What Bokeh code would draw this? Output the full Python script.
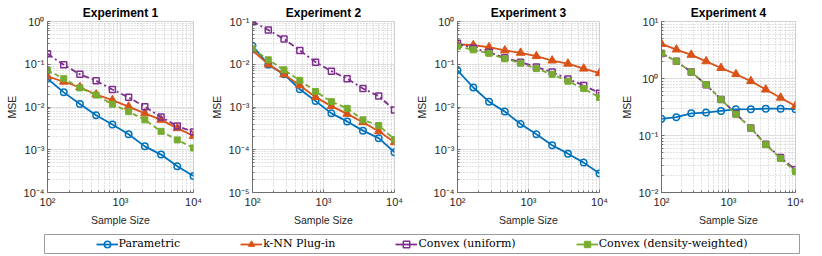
from bokeh.plotting import figure
from bokeh.layouts import column, row
from bokeh.models import Range1d, FixedTicker, CustomJSTickFormatter, Legend, LegendItem
from bokeh.embed import file_html
from bokeh.resources import INLINE

sample_sizes = [100, 167, 278, 464, 774, 1292, 2154, 3594, 5995, 10000]

# Experiment 1
exp1_parametric = [0.046, 0.022, 0.0117, 0.0064, 0.0039, 0.0023, 0.0012, 0.00077, 0.00041, 0.000244]
exp1_knn = [0.052, 0.039, 0.029, 0.0196, 0.0145, 0.0102, 0.0071, 0.0050, 0.0032, 0.0021]
exp1_uniform = [0.175, 0.097, 0.058, 0.041, 0.0257, 0.0168, 0.0102, 0.0058, 0.0036, 0.0026]
exp1_weighted = [0.072, 0.046, 0.028, 0.019, 0.0116, 0.0078, 0.0050, 0.0027, 0.0017, 0.0011]

# Experiment 2
exp2_parametric = [0.027, 0.0098, 0.0058, 0.0026, 0.00138, 0.00071, 0.00046, 0.00028, 0.000187, 0.000087]
exp2_knn = [0.021, 0.0099, 0.0058, 0.0032, 0.0017, 0.00105, 0.00069, 0.00044, 0.00027, 0.000150]
exp2_uniform = [0.1, 0.063, 0.039, 0.021, 0.0112, 0.0069, 0.0046, 0.0027, 0.0018, 0.00085]
exp2_weighted = [0.023, 0.0127, 0.0074, 0.0042, 0.0023, 0.00133, 0.00093, 0.0005, 0.00037, 0.000174]

# Experiment 3
exp3_parametric = [0.072, 0.0286, 0.0133, 0.0078, 0.0040, 0.0023, 0.00127, 0.00081, 0.0005, 0.00028]
exp3_knn = [0.29, 0.28, 0.25, 0.21, 0.185, 0.155, 0.122, 0.103, 0.079, 0.062]
exp3_uniform = [0.31, 0.237, 0.19, 0.141, 0.112, 0.086, 0.066, 0.045, 0.032, 0.021]
exp3_weighted = [0.263, 0.217, 0.18, 0.134, 0.106, 0.079, 0.058, 0.040, 0.027, 0.0167]

# Experiment 4
exp4_parametric = [0.196, 0.21, 0.245, 0.252, 0.27, 0.288, 0.29, 0.295, 0.295, 0.29]
exp4_knn = [4.04, 3.22, 2.6, 2.0, 1.53, 1.19, 0.9, 0.64, 0.46, 0.33]
exp4_uniform = [2.75, 2.0, 1.3, 0.78, 0.43, 0.24, 0.135, 0.07, 0.041, 0.025]
exp4_weighted = [2.78, 2.0, 1.3, 0.78, 0.43, 0.236, 0.135, 0.069, 0.0396, 0.0232]

titles = ["Experiment 1", "Experiment 2", "Experiment 3", "Experiment 4"]
y_exponents = [(-4, 0), (-5, -1), (-4, 0), (-2, 1)]
series_names = ["Parametric", "k-NN Plug-in", "Convex (uniform)", "Convex (density-weighted)"]
data = [
    [exp1_parametric, exp1_knn, exp1_uniform, exp1_weighted],
    [exp2_parametric, exp2_knn, exp2_uniform, exp2_weighted],
    [exp3_parametric, exp3_knn, exp3_uniform, exp3_weighted],
    [exp4_parametric, exp4_knn, exp4_uniform, exp4_weighted],
]

BLUE, ORANGE, PURPLE, GREEN = "#0072BD", "#D95319", "#7E2F8E", "#77AC30"
styles = [
    dict(color=BLUE, dash="solid", marker="circle", size=6.5, fill=None),
    dict(color=ORANGE, dash="solid", marker="triangle", size=8.5, fill=ORANGE),
    dict(color=PURPLE, dash="6 3 2 3", marker="square", size=6, fill=None),
    dict(color=GREEN, dash="5 3", marker="square", size=6, fill=GREEN),
]

fmt = CustomJSTickFormatter(code="""
const sup = {'-':'\u207b','0':'\u2070','1':'\u00b9','2':'\u00b2','3':'\u00b3','4':'\u2074','5':'\u2075','6':'\u2076','7':'\u2077','8':'\u2078','9':'\u2079'};
const e = Math.round(Math.log10(tick));
return '10' + String(e).split('').map(c => sup[c]).join('');
""")

def log_ticks(lo, hi):
    major = [10.0 ** k for k in range(lo, hi + 1)]
    minor = [m * 10.0 ** k for k in range(lo, hi) for m in range(2, 10)]
    return major, minor

layout_px = [(207, 47, 14), (205, 41, 18), (205, 41, 18), (191, 42, 13)]
SANS = "Liberation Sans"


def add_series(p, j, xs, ys):
    st = styles[j]
    r1 = p.line(xs, ys, line_color=st["color"], line_width=1.8, line_dash=st["dash"])
    if st["fill"] is None:
        r2 = p.scatter(xs, ys, marker=st["marker"], size=st["size"],
                       line_color=st["color"], line_width=1.5, fill_alpha=0)
    else:
        r2 = p.scatter(xs, ys, marker=st["marker"], size=st["size"],
                       line_color=st["color"], line_width=1.0, fill_color=st["fill"])
    return r1, r2


panels = []
for i in range(4):
    w, bl, br = layout_px[i]
    lo, hi = y_exponents[i]
    p = figure(width=w, height=228, x_axis_type="log", y_axis_type="log",
               x_range=Range1d(100, 10000), y_range=Range1d(10.0 ** lo, 10.0 ** hi),
               output_backend="svg", toolbar_location=None,
               min_border_left=bl, min_border_right=br, min_border_top=21, min_border_bottom=35)
    p.title.text = titles[i]
    p.title.align = "center"
    p.title.text_font = SANS
    p.title.text_font_style = "bold"
    p.title.text_font_size = "12px"
    p.title.text_color = "black"
    p.title.standoff = 3
    p.title.offset = 0

    xmaj, xmin = log_ticks(2, 4)
    ymaj, ymin = log_ticks(lo, hi)
    p.xaxis.ticker = FixedTicker(ticks=xmaj, minor_ticks=xmin)
    p.yaxis.ticker = FixedTicker(ticks=ymaj, minor_ticks=ymin)
    p.xaxis.formatter = fmt
    p.yaxis.formatter = fmt
    p.xaxis.axis_label = "Sample Size"
    p.yaxis.axis_label = "MSE"
    for ax in (p.xaxis, p.yaxis):
        ax.axis_line_color = "#6e6e6e"
        ax.major_tick_line_color = "#6e6e6e"
        ax.minor_tick_line_color = "#6e6e6e"
        ax.major_tick_in = 3
        ax.major_tick_out = 0
        ax.minor_tick_in = 2
        ax.minor_tick_out = 0
        ax.major_label_text_font = SANS
        ax.major_label_text_font_size = "11px"
        ax.major_label_text_color = "#262626"
        ax.axis_label_text_font = SANS
        ax.axis_label_text_font_size = "10.5px"
        ax.axis_label_text_font_style = "normal"
        ax.axis_label_text_color = "#262626"
        ax.major_label_standoff = 3
        ax.axis_label_standoff = 3
    p.grid.grid_line_color = "#dedede"
    p.grid.minor_grid_line_color = "#c4c4c4"
    p.grid.minor_grid_line_dash = "1 2"
    p.outline_line_color = "#d0d0d0"
    p.background_fill_color = "white"

    for j in range(4):
        add_series(p, j, sample_sizes, data[i][j])
    panels.append(p)

# legend strip: renderers hold real data but lie outside this strip's ranges
leg = figure(width=808, height=27, x_range=Range1d(0, 1), y_range=Range1d(0, 1),
             output_backend="svg", toolbar_location=None,
             x_axis_location=None, y_axis_location=None,
             min_border_left=44, min_border_right=9, min_border_top=6, min_border_bottom=2)
leg.grid.visible = False
leg.outline_line_color = "#9a9a9a"
items = []
for j in range(4):
    r1, r2 = add_series(leg, j, sample_sizes, data[0][j])
    r1.glyph.line_dash = "solid"
    items.append(LegendItem(label=series_names[j], renderers=[r1, r2]))
legend = Legend(items=items, orientation="horizontal", location="center",
                spacing=60, label_standoff=1, glyph_width=22, glyph_height=16,
                padding=0, margin=0, border_line_alpha=0, background_fill_alpha=0,
                label_text_font="DejaVu Serif", label_text_font_size="11px",
                label_text_color="black", label_height=16)
leg.add_layout(legend, "center")

layout = column(row(*panels), leg)
open("out.html", "w").write(file_html(layout, INLINE))
